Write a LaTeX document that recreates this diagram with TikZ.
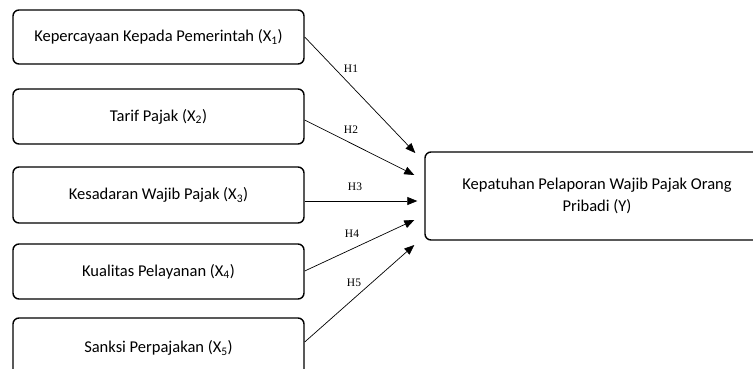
\documentclass[tikz,border=0pt]{standalone}
\usepackage{fontspec}
\setmainfont{Carlito}
\newfontfamily\labelfont{Liberation Serif}
\usetikzlibrary{calc,arrows.meta}
\begin{document}
\begin{tikzpicture}[x=1pt,y=1pt,
  varbox/.style={draw=black,line width=1.4pt,rounded corners=6pt,minimum width=291pt,align=center,font=\fontsize{16.5}{22}\selectfont,inner sep=0pt},
  hyparrow/.style={draw=black,line width=0.7pt,-{Triangle[length=10pt,width=8pt]}},
  hlabel/.style={font=\labelfont\fontsize{11.5}{13}\selectfont,inner sep=0pt}]
\useasboundingbox (0,0) rectangle (753,-368);
\begin{scope}
\clip (0,0) rectangle (753,-368);
\node[varbox,minimum height=54pt] (x1) at (158.5,-37) {Kepercayaan Kepada Pemerintah (X\textsubscript{1})};
\node[varbox,minimum height=55pt] (x2) at (158.5,-116.5) {Tarif Pajak (X\textsubscript{2})};
\node[varbox,minimum height=56pt] (x3) at (158.5,-195) {Kesadaran Wajib Pajak (X\textsubscript{3})};
\node[varbox,minimum height=55pt] (x4) at (158.5,-271.5) {Kualitas Pelayanan (X\textsubscript{4})};
\node[varbox,minimum height=60pt] (x5) at (158.5,-348) {Sanksi Perpajakan (X\textsubscript{5})};
\node[varbox,minimum width=344pt,minimum height=88pt] (yb) at (597,-196) {Kepatuhan Pelaporan Wajib Pajak Orang\\Pribadi (Y)};
\end{scope}
\coordinate (e1) at ($(yb.west)+(-9,43)$);
\coordinate (e2) at ($(yb.west)+(-10,21)$);
\coordinate (e3) at ($(yb.west)+(-7,-5)$);
\coordinate (e4) at ($(yb.west)+(-10,-24)$);
\coordinate (e5) at ($(yb.west)+(-10,-49)$);
\draw[hyparrow] (x1.east) -- (e1);
\draw[hyparrow] ($(x2.east)+(0,-3.5)$) -- (e2);
\draw[hyparrow] ($(x3.east)+(0,-6)$) -- (e3);
\draw[hyparrow] ($(x4.east)+(0,0.5)$) -- (e4);
\draw[hyparrow] ($(x5.east)+(0,6)$) -- (e5);
\node[hlabel] (h1) at (351,-69) {H1};
\node[hlabel] (h2) at (351,-130) {H2};
\node[hlabel] (h3) at (355,-187) {H3};
\node[hlabel] (h4) at (352,-234) {H4};
\node[hlabel] (h5) at (354,-283) {H5};
\end{tikzpicture}
\end{document}
